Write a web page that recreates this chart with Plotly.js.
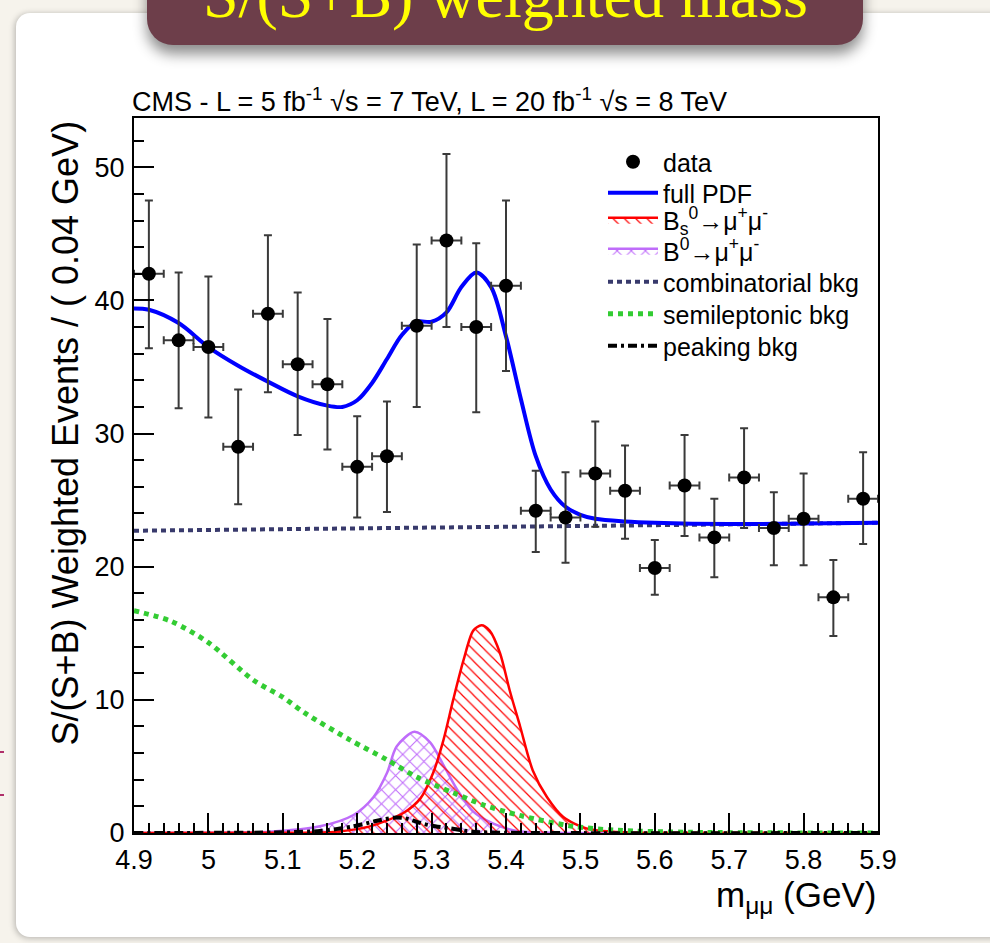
<!DOCTYPE html>
<html>
<head>
<meta charset="utf-8">
<script src="https://cdn.plot.ly/plotly-3.0.1.min.js"></script>
<style>
  html, body { margin:0; padding:0; }
  body { width:990px; height:943px; overflow:hidden; position:relative; background:#f6f3ec; }
  #panel { position:absolute; left:16px; top:13px; width:1000px; height:924px; background:#ffffff;
           border-radius:14px 0 0 14px; box-shadow:-1px 1px 6px rgba(0,0,0,0.28); }
  #banner { position:absolute; left:147px; top:-30px; width:716px; height:75px; background:#6d3e4a;
            border-radius:0 0 26px 26px; box-shadow:0 9px 14px rgba(0,0,0,0.45); }
  .mark { position:absolute; left:0; width:4px; height:2px; background:#b0306a; }
  #chart { position:absolute; left:0; top:0; width:990px; height:943px; }
</style>
</head>
<body>
<div id="panel"></div>
<div id="banner"></div>
<div class="mark" style="top:751px"></div>
<div class="mark" style="top:794px"></div>
<div id="chart"></div>
<script>
// ---- data ----
const binCenters = [4.92,4.96,5.00,5.04,5.08,5.12,5.16,5.20,5.24,5.28,5.32,5.36,5.40,
                    5.44,5.48,5.52,5.56,5.60,5.64,5.68,5.72,5.76,5.80,5.84,5.88];
const weightedEvents = [42.0,37.0,36.5,29.0,39.0,35.2,33.7,27.5,28.3,38.1,44.5,38.0,41.1,
                        24.2,23.7,27.0,25.7,19.9,26.1,22.2,26.7,22.9,23.6,17.7,25.1];
const errUp   = [5.5,5.1,5.3,4.3,5.9,5.4,4.9,3.8,4.1,6.1,6.5,6.3,6.4,
                 3.0,3.4,3.9,3.4,2.1,3.8,2.9,3.7,2.7,3.4,2.8,3.5];
const errDown = [5.6,5.1,5.3,4.3,5.9,5.3,4.9,3.8,4.2,6.1,6.5,6.4,6.4,
                 3.1,3.4,4.0,3.6,2.0,3.8,3.0,3.8,2.8,3.5,2.9,3.4];
const binHalfWidth = 0.02;

const pdfMass = [4.90,4.92,4.96,5.00,5.04,5.08,5.12,5.16,5.18,5.20,5.22,5.24,5.26,5.28,5.30,
                 5.32,5.34,5.36,5.38,5.40,5.42,5.44,5.46,5.48,5.50,5.52,5.56,5.60,5.70,5.80,5.90];
const pdfFull = [39.4,39.3,38.3,36.5,35.1,33.9,32.8,32.1,32.0,32.5,33.8,35.6,37.4,38.4,38.4,
                 39.1,41.0,42.1,41.0,37.3,32.6,28.3,25.8,24.5,23.9,23.6,23.4,23.3,23.2,23.25,23.3];

const combMass = [4.90,5.90];
const combBkg  = [22.7,23.3];

const semiMass = [4.90,4.95,5.00,5.06,5.10,5.13,5.19,5.24,5.28,5.33,5.37,5.42,5.49,5.55,5.65,5.90];
const semiBkg  = [16.7,15.9,14.3,11.5,10.2,9.0,7.0,5.5,4.2,3.0,2.1,1.3,0.5,0.2,0.05,0.0];

const peakMass = [4.90,5.10,5.15,5.195,5.225,5.25,5.265,5.285,5.30,5.325,5.355,5.40,5.90];
const peakBkg  = [0.0,0.05,0.15,0.5,0.9,1.15,1.1,0.75,0.55,0.35,0.1,0.02,0.0];

const bsMass = [4.90,5.10,5.172,5.217,5.262,5.285,5.302,5.316,5.329,5.343,5.356,5.367,5.378,
                5.392,5.405,5.419,5.436,5.455,5.477,5.508,5.544,5.60,5.90];
const bsSig  = [0.0,0.02,0.1,0.5,1.5,2.6,4.5,7.0,10.0,13.0,15.2,15.6,15.2,
                13.5,10.7,8.0,4.7,2.7,1.2,0.35,0.1,0.02,0.0];

const b0Mass = [4.90,5.00,5.083,5.150,5.195,5.222,5.240,5.253,5.277,5.298,5.316,5.334,5.356,
                5.383,5.414,5.45,5.90];
const b0Sig  = [0.0,0.02,0.1,0.5,1.35,2.7,4.5,6.5,7.6,6.8,5.1,3.3,1.6,0.7,0.15,0.03,0.0];

const xTickVals = [4.9,5.0,5.1,5.2,5.3,5.4,5.5,5.6,5.7,5.8,5.9];
const xTickText = ['4.9','5','5.1','5.2','5.3','5.4','5.5','5.6','5.7','5.8','5.9'];

const names = ['data','full PDF','B<sub>s</sub><sup>0</sup>→μ<sup>+</sup>μ<sup>-</sup>',
               'B<sup>0</sup>→μ<sup>+</sup>μ<sup>-</sup>','combinatorial bkg','semileptonic bkg','peaking bkg'];

// ---- geometry helpers (page pixels -> paper fractions) ----
const PL = 134, PR = 878, PT = 118, PB = 833;
const H = PB - PT;
function py(p) { return (PB - p) / H; }
function px(p) { return (p - PL) / (PR - PL); }

const FONT = 'Liberation Sans, Arial, Helvetica, sans-serif';
const legendRows = [162, 193, 220, 251, 282, 314, 346];
const legendKeys = ['legend','legend2','legend3','legend4','legend5','legend6','legend7'];

// ---- traces ----
const traces = [
  { x:b0Mass, y:b0Sig, name:names[3], legend:legendKeys[3], mode:'lines', type:'scatter',
    line:{color:'#bf6cfa', width:2.5, shape:'spline', smoothing:0.8},
    fill:'tozeroy', fillcolor:'rgba(0,0,0,0)',
    fillpattern:{shape:'x', fgcolor:'#bf6cfa', bgcolor:'rgba(0,0,0,0)', size:10, solidity:0.2} },
  { x:bsMass, y:bsSig, name:names[2], legend:legendKeys[2], mode:'lines', type:'scatter',
    line:{color:'#ff0000', width:2.5, shape:'spline', smoothing:0.8},
    fill:'tozeroy', fillcolor:'rgba(0,0,0,0)',
    fillpattern:{shape:'\\', fgcolor:'#ff0000', bgcolor:'rgba(0,0,0,0)', size:8, solidity:0.15} },
  { x:semiMass, y:semiBkg, name:names[5], legend:legendKeys[5], mode:'lines', type:'scatter',
    line:{color:'#33cc33', width:5, dash:'5px,5px', shape:'spline', smoothing:0.8} },
  { x:combMass, y:combBkg, name:names[4], legend:legendKeys[4], mode:'lines', type:'scatter',
    line:{color:'#383a6c', width:4, dash:'5px,4px'} },
  { x:peakMass, y:peakBkg, name:names[6], legend:legendKeys[6], mode:'lines', type:'scatter',
    line:{color:'#000000', width:4, dash:'9px,4px,3px,4px', shape:'spline', smoothing:0.8} },
  { x:pdfMass, y:pdfFull, name:names[1], legend:legendKeys[1], mode:'lines', type:'scatter',
    line:{color:'#0000ff', width:4, shape:'spline', smoothing:0.9} },
  { x:binCenters, y:weightedEvents, name:names[0], legend:legendKeys[0], mode:'markers', type:'scatter',
    marker:{color:'#000000', size:14, symbol:'circle'},
    error_y:{type:'data', symmetric:false, array:errUp, arrayminus:errDown, color:'#3a3a3a', thickness:2, width:4},
    error_x:{type:'constant', value:binHalfWidth, color:'#3a3a3a', thickness:2, width:4} }
];

const layout = {
  width:990, height:943,
  margin:{l:PL, r:990-PR, t:PT, b:943-PB, pad:0},
  paper_bgcolor:'rgba(0,0,0,0)', plot_bgcolor:'rgba(0,0,0,0)',
  font:{family:FONT, color:'#000000'},
  showlegend:true,
  xaxis:{range:[4.9,5.9], tickmode:'array', tickvals:xTickVals, ticktext:xTickText,
         ticks:'inside', ticklen:20, tickwidth:2, tickcolor:'#000',
         showline:true, linewidth:2, linecolor:'#000', mirror:true,
         showgrid:false, zeroline:false, ticklabelstandoff:2,
         tickfont:{family:FONT, size:27, color:'#000'},
         minor:{ticks:'inside', ticklen:10, tickwidth:2, tickcolor:'#000', dtick:0.02, tick0:4.9, showgrid:false}},
  yaxis:{range:[0,53.7], tickmode:'linear', tick0:0, dtick:10,
         ticks:'inside', ticklen:20, tickwidth:2, tickcolor:'#000',
         showline:true, linewidth:2, linecolor:'#000', mirror:true,
         showgrid:false, zeroline:false, ticklabelstandoff:2,
         tickfont:{family:FONT, size:27, color:'#000'},
         minor:{ticks:'inside', ticklen:10, tickwidth:2, tickcolor:'#000', dtick:2, tick0:0, showgrid:false}},
  annotations:[
    { text:'S/(S+B) weighted mass', xref:'paper', yref:'paper', x:px(505), y:py(33),
      xanchor:'center', yanchor:'bottom', showarrow:false,
      font:{family:'Liberation Serif, DejaVu Serif, serif', size:64, color:'#ffff00'} },
    { text:'CMS - L = 5 fb<sup>-1</sup> √s = 7 TeV, L = 20 fb<sup>-1</sup> √s = 8 TeV',
      xref:'paper', yref:'paper', x:px(130), y:py(119), xanchor:'left', yanchor:'bottom',
      showarrow:false, font:{family:FONT, size:27, color:'#000'} },
    { text:'S/(S+B) Weighted Events / ( 0.04 GeV)', xref:'paper', yref:'paper',
      x:px(65), y:py(119), xanchor:'center', yanchor:'top', textangle:-90, showarrow:false,
      font:{family:FONT, size:36, color:'#000'} },
    { text:'m<sub>μμ</sub> (GeV)', xref:'paper', yref:'paper', x:1, y:py(897),
      xanchor:'right', yanchor:'middle', showarrow:false,
      font:{family:FONT, size:35, color:'#000'} }
  ]
};

legendKeys.forEach(function(k, i) {
  layout[k] = {x:px(603), y:py(legendRows[i]), xanchor:'left', yanchor:'middle',
               bgcolor:'rgba(0,0,0,0)', borderwidth:0, itemwidth:50,
               font:{family:FONT, size:25, color:'#000'}};
});

Plotly.newPlot('chart', traces, layout, {displayModeBar:false, staticPlot:true});
</script>
</body>
</html>
